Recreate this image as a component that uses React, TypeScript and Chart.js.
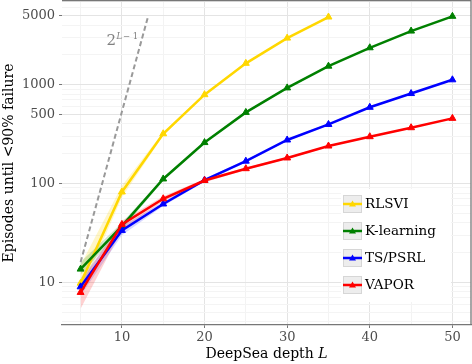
import React, { useEffect, useRef } from "react";
import { Chart, registerables } from "chart.js";

Chart.register(...registerables);

// ---- data ----
const depthsRLSVI = [5, 10, 15, 20, 25, 30, 35];
const depthsAll = [5, 10, 15, 20, 25, 30, 35, 40, 45, 50];

const rlsvi = [9.8, 82, 318, 790, 1640, 2950, 4820];
const rlsviLow = [8, 72, 305, 770, 1610, 2900, 4750];
const rlsviHigh = [15, 95, 332, 810, 1680, 3000, 4900];

const kLearning = [13.6, 37, 111, 259, 523, 925, 1535, 2355, 3475, 4900];
const kLearningLow = [12, 34, 107, 253, 513, 910, 1515, 2325, 3430, 4840];
const kLearningHigh = [16, 40, 115, 265, 533, 940, 1555, 2385, 3520, 4960];

const tsPsrl = [9.0, 33.5, 62, 108, 168, 275, 395, 589, 811, 1117];
const tsPsrlLow = [7.3, 30, 59, 104, 163, 268, 387, 578, 798, 1100];
const tsPsrlHigh = [11, 37, 65, 112, 173, 282, 403, 600, 824, 1134];

const vapor = [7.9, 38.5, 70, 107, 141, 181, 239, 297, 366, 455];
const vaporLow = [5.4, 34, 66, 103, 137, 177, 234, 292, 360, 448];
const vaporHigh = [10, 42, 74, 111, 145, 185, 244, 302, 372, 462];

// reference curve 2^(L-1), endpoints
const refDepths = [5, 13.2];
const refValues = [16, 5000];

const xTicks = [5, 10, 15, 20, 25, 30, 35, 40, 45, 50];
const xLabelTicks = [10, 20, 30, 40, 50];
const yMajorTicks = [10, 100, 500, 1000, 5000];
const yMinorTicks = [4, 5, 6, 7, 8, 9, 20, 30, 40, 50, 60, 70, 80, 90, 200, 300, 400, 600, 700, 800, 900, 2000, 3000, 4000, 6000, 7000];

const seriesNames = ["RLSVI", "K-learning", "TS/PSRL", "VAPOR"];
const seriesColors = ["#FFD700", "#008000", "#0000FF", "#FF0000"];
const bandColors = [
  "rgba(255,215,0,0.22)",
  "rgba(0,128,0,0.18)",
  "rgba(0,0,255,0.16)",
  "rgba(255,0,0,0.18)",
];

const SERIF = "'DejaVu Serif', serif";

const pts = (xs: number[], ys: number[]) => xs.map((x, i) => ({ x, y: ys[i] }));

export default function App() {
  const ref = useRef<HTMLCanvasElement | null>(null);

  useEffect(() => {
    const canvas = ref.current;
    if (!canvas) return;

    const lineDs = (idx: number, xs: number[], ys: number[]) => ({
      label: seriesNames[idx],
      data: pts(xs, ys),
      borderColor: seriesColors[idx],
      backgroundColor: seriesColors[idx],
      borderWidth: 2.5,
      pointStyle: "triangle",
      pointRadius: 4,
      pointBorderWidth: 1,
      fill: false,
      tension: 0,
    });

    const bandPair = (idx: number, xs: number[], lo: number[], hi: number[]) => [
      {
        label: seriesNames[idx] + " upper",
        data: pts(xs, hi),
        borderWidth: 0,
        borderColor: "rgba(0,0,0,0)",
        backgroundColor: bandColors[idx],
        pointRadius: 0,
        fill: "+1",
      },
      {
        label: seriesNames[idx] + " lower",
        data: pts(xs, lo),
        borderWidth: 0,
        borderColor: "rgba(0,0,0,0)",
        backgroundColor: bandColors[idx],
        pointRadius: 0,
        fill: false,
      },
    ];

    const datasets: any[] = [
      lineDs(3, depthsAll, vapor),
      lineDs(2, depthsAll, tsPsrl),
      lineDs(1, depthsAll, kLearning),
      lineDs(0, depthsRLSVI, rlsvi),
      {
        label: "2^(L-1)",
        data: pts(refDepths, refValues),
        borderColor: "#999999",
        borderWidth: 2,
        borderDash: [5, 3],
        pointRadius: 0,
        fill: false,
      },
      ...bandPair(3, depthsAll, vaporLow, vaporHigh),
      ...bandPair(2, depthsAll, tsPsrlLow, tsPsrlHigh),
      ...bandPair(1, depthsAll, kLearningLow, kLearningHigh),
      ...bandPair(0, depthsRLSVI, rlsviLow, rlsviHigh),
    ];

    const decor = {
      id: "decor",
      afterDraw(chart: any) {
        const ctx = chart.ctx as CanvasRenderingContext2D;
        const a = chart.chartArea;
        ctx.save();
        // panel border: top and right
        ctx.strokeStyle = "#777777";
        ctx.lineWidth = 1.3;
        ctx.beginPath();
        ctx.moveTo(a.left, a.top - 0.3);
        ctx.lineTo(a.right, a.top - 0.3);
        ctx.lineTo(a.right, a.bottom);
        ctx.stroke();

        // 2^{L-1} annotation
        ctx.fillStyle = "#808080";
        ctx.textBaseline = "alphabetic";
        ctx.textAlign = "left";
        ctx.font = `15px ${SERIF}`;
        ctx.fillText("2", 106.5, 44.5);
        ctx.font = `italic 8.5px ${SERIF}`;
        ctx.fillText("L", 116.5, 38.5);
        ctx.font = `8.5px ${SERIF}`;
        ctx.fillText("\u2212 1", 123, 38.5);

        // legend
        const lx = 341, ly = 189, lw = 110, lh = 113;
        ctx.fillStyle = "#ffffff";
        ctx.fillRect(lx, ly, lw, lh);
        const rows = [204, 231, 258, 285];
        rows.forEach((cy, i) => {
          ctx.fillStyle = "#ededed";
          ctx.fillRect(343, cy - 9, 19, 18);
          ctx.strokeStyle = "#d6d6d6";
          ctx.lineWidth = 1;
          ctx.strokeRect(343.5, cy - 8.5, 18, 17);
          ctx.strokeStyle = seriesColors[i];
          ctx.lineWidth = 2.5;
          ctx.beginPath();
          ctx.moveTo(343, cy);
          ctx.lineTo(362, cy);
          ctx.stroke();
          ctx.fillStyle = seriesColors[i];
          ctx.beginPath();
          ctx.moveTo(352.5, cy - 3.5);
          ctx.lineTo(356, cy + 2.5);
          ctx.lineTo(349, cy + 2.5);
          ctx.closePath();
          ctx.fill();
          ctx.fillStyle = "#000000";
          ctx.font = `13.5px ${SERIF}`;
          ctx.textBaseline = "middle";
          ctx.textAlign = "left";
          ctx.fillText(seriesNames[i], 365, cy + 0.5);
        });

        // axis titles
        ctx.fillStyle = "#000000";
        ctx.textBaseline = "alphabetic";
        ctx.font = `14px ${SERIF}`;
        const t1 = "DeepSea depth ";
        const w1 = ctx.measureText(t1).width;
        ctx.font = `italic 14px ${SERIF}`;
        const w2 = ctx.measureText("L").width;
        const cx = (a.left + a.right) / 2;
        const sx = cx - (w1 + w2) / 2;
        ctx.font = `14px ${SERIF}`;
        ctx.fillText(t1, sx, 358);
        ctx.font = `italic 14px ${SERIF}`;
        ctx.fillText("L", sx + w1, 358);

        ctx.translate(12.7, (a.top + a.bottom) / 2);
        ctx.rotate(-Math.PI / 2);
        ctx.textAlign = "center";
        ctx.font = `14px ${SERIF}`;
        ctx.fillText("Episodes until <90% failure", 0, 0);
        ctx.restore();
      },
    };

    const chart = new Chart(canvas, {
      type: "line",
      data: { datasets },
      options: {
        animation: false,
        responsive: false,
        devicePixelRatio: 1,
        layout: { autoPadding: false, padding: { top: 1, right: 1, left: 0, bottom: 0 } },
        plugins: {
          legend: { display: false },
          tooltip: { enabled: false },
          filler: { propagate: false },
        },
        scales: {
          x: {
            type: "linear",
            min: 2.75,
            max: 52.25,
            afterFit: (s: any) => {
              s.height = 39;
              s.paddingLeft = 0;
              s.paddingRight = 0;
              s.paddingTop = 0;
              s.paddingBottom = 0;
            },
            afterBuildTicks: (s: any) => {
              s.ticks = xTicks.map((v) => ({ value: v }));
            },
            ticks: {
              autoSkip: false,
              maxRotation: 0,
              padding: 2,
              color: "#4d4d4d",
              font: { family: SERIF, size: 13 },
              callback: (v: any) => (xLabelTicks.includes(Number(v)) ? String(v) : ""),
            },
            grid: {
              color: (c: any) =>
                c.tick && xLabelTicks.includes(c.tick.value) ? "#e4e4e4" : "#f3f3f3",
              tickColor: (c: any) =>
                c.tick && xLabelTicks.includes(c.tick.value) ? "#777777" : "rgba(0,0,0,0)",
              tickLength: 3,
              lineWidth: 1,
            },
            border: { display: true, color: "#777777", width: 1.3 },
          },
          y: {
            type: "logarithmic",
            min: 3.7,
            max: 7000,
            afterFit: (s: any) => {
              s.width = 62;
              s.paddingLeft = 0;
              s.paddingRight = 0;
              s.paddingTop = 0;
              s.paddingBottom = 0;
            },
            afterBuildTicks: (s: any) => {
              const all = [...yMinorTicks, ...yMajorTicks].sort((p, q) => p - q);
              s.ticks = all.map((v) => ({ value: v }));
            },
            ticks: {
              autoSkip: false,
              padding: 4,
              color: "#4d4d4d",
              font: { family: SERIF, size: 13 },
              callback: (v: any) => (yMajorTicks.includes(Number(v)) ? String(v) : ""),
            },
            grid: {
              color: (c: any) =>
                c.tick && yMajorTicks.includes(c.tick.value) ? "#e4e4e4" : "#f4f4f4",
              tickColor: (c: any) =>
                c.tick && yMajorTicks.includes(c.tick.value) ? "#777777" : "rgba(0,0,0,0)",
              tickLength: 3,
              lineWidth: 1,
            },
            border: { display: false },
          },
        },
      },
      plugins: [decor],
    } as any);

    return () => chart.destroy();
  }, []);

  return (
    <div style={{ position: "fixed", left: 0, top: 0, width: 472, height: 364, background: "#fff" }}>
      <canvas ref={ref} width={472} height={364} style={{ display: "block" }} />
    </div>
  );
}
